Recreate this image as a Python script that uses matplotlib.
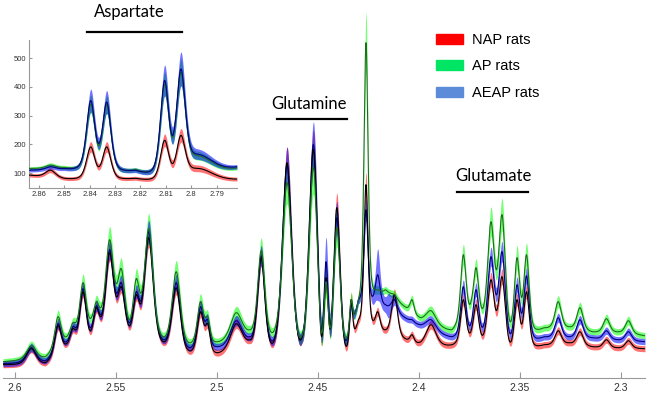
import numpy as np
import matplotlib
matplotlib.use('Agg')
import matplotlib.pyplot as plt
from matplotlib.patches import Patch

W, H = 650, 397

# ---- main spectrum: peak table (ppm, half width) and mean heights per group
PEAK_PPM = [2.5920, 2.5788, 2.5714, 2.5664, 2.5598, 2.5577, 2.5532, 2.5474, 2.5400,
            2.5375, 2.5338, 2.5202, 2.5082, 2.5046, 2.4905, 2.4781, 2.4653, 2.4522,
            2.4460, 2.4407, 2.4336, 2.4262, 2.4204, 2.4121, 2.4034, 2.3940, 2.3780,
            2.3717, 2.3643, 2.3588, 2.3514, 2.3467, 2.3310, 2.3202, 2.3071, 2.2962]
PEAK_HW = [0.0028, 0.0019, 0.0017, 0.0019, 0.0017, 0.0013, 0.0024, 0.0022, 0.0019,
           0.0012, 0.0026, 0.0025, 0.0019, 0.0014, 0.0035, 0.0021, 0.0028, 0.0027,
           0.0014, 0.0021, 0.0009, 0.0012, 0.0014, 0.0018, 0.0012, 0.0030, 0.0016,
           0.0016, 0.0020, 0.0020, 0.0016, 0.0016, 0.0019, 0.0019, 0.0019, 0.0019]
NAP_PK = [29, 52, 49, 86, 70, 61, 125, 91, 83, 75, 140, 90, 66, 54, 54, 120, 215, 228,
          100, 170, 78, 193, 66, 83, 43, 53, 78, 73, 98, 101, 78, 86, 47, 46, 38, 37]
AP_PK = [32, 61, 55, 95, 76, 70, 138, 109, 99, 85, 149, 106, 76, 61, 65, 127, 195, 210,
         96, 150, 78, 335, 88, 83, 78, 67, 123, 110, 156, 163, 120, 123, 76, 70, 59, 57]
AEAP_PK = [30, 54, 51, 89, 72, 63, 128, 95, 86, 78, 146, 95, 71, 58, 57, 122, 213, 233,
           116, 160, 73, 168, 103, 78, 58, 58, 91, 88, 121, 126, 93, 102, 60, 58, 47, 46]

# valley levels between peaks
VAL_PPM = [2.606, 2.585, 2.5747, 2.5623, 2.5433, 2.526, 2.5163, 2.4996, 2.484, 2.4715,
           2.458, 2.4485, 2.4375, 2.430, 2.4165, 2.399, 2.3836, 2.374, 2.3557, 2.338,
           2.3255, 2.314, 2.301, 2.288]
NAP_VAL = [13, 15, 34, 48, 52, 36, 37, 25, 38, 38, 40, 44, 48, 58, 48, 36, 33, 48, 41,
           33, 35, 31, 30, 29]
AP_VAL = [16, 21, 41, 60, 58, 41, 46, 36, 48, 48, 42, 47, 50, 78, 88, 60, 48, 78, 65,
          50, 51, 46, 46, 42]
AEAP_VAL = [14, 17, 36, 51, 55, 38, 40, 31, 41, 40, 41, 50, 49, 78, 73, 53, 41, 56, 51,
            41, 41, 40, 38, 36]

# extra spread spots (ppm, extra sd)
AEAP_SPREAD_PPM = [2.4460, 2.4204, 2.4150]
AEAP_SPREAD = [10, 20, 8]

# ---- inset: aspartate region
INS_PPM = [2.8554, 2.8396, 2.8333, 2.8105, 2.8041, 2.7970]
INS_HW = [0.0024, 0.0020, 0.0020, 0.0020, 0.0021, 0.0070]
NAP_INS = [110, 191, 191, 214, 231, 116]
AP_INS = [128, 340, 338, 410, 450, 160]
AEAP_INS = [122, 352, 347, 422, 462, 165]
INS_VAL_PPM = [2.864, 2.850, 2.8365, 2.822, 2.8073, 2.782]
NAP_INS_VAL = [93, 82, 122, 82, 133, 79]
AP_INS_VAL = [116, 120, 195, 112, 225, 118]
AEAP_INS_VAL = [110, 116, 203, 110, 231, 122]

MAIN_TICKS = [2.6, 2.55, 2.5, 2.45, 2.4, 2.35, 2.3]
INS_XTICKS = [2.86, 2.85, 2.84, 2.83, 2.82, 2.81, 2.8, 2.79]
INS_YTICKS = [100, 200, 300, 400, 500]

GROUPS = ['NAP rats', 'AP rats', 'AEAP rats']
BAND = {'NAP rats': '#ff0000', 'AP rats': '#00ff00', 'AEAP rats': '#0000ff'}
LINE = {'NAP rats': '#000000', 'AP rats': '#1f6e1f', 'AEAP rats': '#000080'}
LEG = {'NAP rats': '#ff0000', 'AP rats': '#00e664', 'AEAP rats': '#5b8bd9'}

plt.rcParams['font.family'] = ['Liberation Sans', 'DejaVu Sans']


def lor(x, p, w):
    return 1.0 / (1.0 + ((x - p) / w) ** 2)


def line_shape(x, p, w):
    # pseudo-Voigt: half Lorentzian, half Gaussian
    return 0.5 * lor(x, p, w) + 0.5 * np.exp(-np.log(2) * ((x - p) / w) ** 2)


def build(x, pk_ppm, pk_hw, pk_h, val_ppm, val_h):
    """Peaks on a piecewise linear baseline, solved so that the curve
    passes through the read peak and valley levels."""
    pk_ppm = np.asarray(pk_ppm); pk_hw = np.asarray(pk_hw)
    order = np.argsort(val_ppm)
    vx = np.asarray(val_ppm)[order]
    vh = np.asarray(val_h, float)[order]

    def basis(xx):
        cols = [line_shape(xx, p, w) for p, w in zip(pk_ppm, pk_hw)]
        for k in range(len(vx)):
            e = np.zeros(len(vx)); e[k] = 1
            cols.append(np.interp(xx, vx, e))
        return np.column_stack(cols)

    pts = np.concatenate([pk_ppm, vx])
    obs = np.concatenate([np.asarray(pk_h, float), vh])
    coef = np.linalg.lstsq(basis(pts), obs, rcond=None)[0]
    B = basis(x)
    n = len(pk_ppm)
    return B @ coef, B[:, n:] @ coef[n:]


fig = plt.figure(figsize=(W / 100, H / 100), dpi=100)

# main axes
ax = fig.add_axes([3 / W, 1 - 377.7 / H, 642 / W, 377.7 / H])
x = np.linspace(2.606, 2.288, 4000)
main = {
    'NAP rats': (NAP_PK, NAP_VAL, 3, 0.06, [], []),
    'AP rats': (AP_PK, AP_VAL, 3, 0.10, [], []),
    'AEAP rats': (AEAP_PK, AEAP_VAL, 3, 0.07, AEAP_SPREAD_PPM, AEAP_SPREAD),
}
curves = {}
for g in GROUPS:
    pk, val, sd0, rel, sx, sv = main[g]
    y, base = build(x, PEAK_PPM, PEAK_HW, pk, VAL_PPM, val)
    sd = sd0 + rel * np.clip(y - base, 0, None)
    for p, v in zip(sx, sv):
        sd = sd + v * lor(x, p, 0.0012)
    curves[g] = y
    ax.fill_between(x, y - sd, y + sd, color=BAND[g], alpha=0.55, lw=0, zorder=2)
for g in ['AEAP rats', 'NAP rats', 'AP rats']:
    ax.plot(x, curves[g], color=LINE[g], lw=0.8, zorder=3)

ax.set_xlim(2.606, 2.288)
ax.set_ylim(0, 377.7)
for sp in ['top', 'right', 'left']:
    ax.spines[sp].set_visible(False)
ax.spines['bottom'].set_color('#999999')
ax.set_yticks([])
ax.set_xticks(MAIN_TICKS)
ax.set_xticklabels([f'{t:g}' for t in MAIN_TICKS])
ax.tick_params(axis='x', direction='in', length=4, color='#999999',
               labelsize=7.5, labelcolor='#333333', pad=4)
ax.patch.set_alpha(0)

# inset axes
ia = fig.add_axes([29 / W, 1 - 188 / H, 208 / W, 148 / H])
xi = np.linspace(2.8639, 2.782, 1500)
inset = {
    'NAP rats': (NAP_INS, NAP_INS_VAL, 6, 0.10),
    'AP rats': (AP_INS, AP_INS_VAL, 6, 0.10),
    'AEAP rats': (AEAP_INS, AEAP_INS_VAL, 6, 0.13),
}
icurves = {}
for g in GROUPS:
    pk, val, sd0, rel = inset[g]
    y, base = build(xi, INS_PPM, INS_HW, pk, INS_VAL_PPM, val)
    sd = sd0 + rel * np.clip(y - base, 0, None)
    icurves[g] = y
    ia.fill_between(xi, y - sd, y + sd, color=BAND[g], alpha=0.55, lw=0, zorder=2)
for g in ['AP rats', 'NAP rats', 'AEAP rats']:
    ia.plot(xi, icurves[g], color=LINE[g], lw=0.8, zorder=3)
ia.set_xlim(2.8639, 2.782)
ia.set_ylim(48, 563)
ia.set_xticks(INS_XTICKS)
ia.set_xticklabels([f'{t:g}' for t in INS_XTICKS])
ia.set_yticks(INS_YTICKS)
for sp in ['top', 'right']:
    ia.spines[sp].set_visible(False)
for sp in ['left', 'bottom']:
    ia.spines[sp].set_color('#999999')
ia.tick_params(direction='in', length=2.5, color='#999999', labelsize=5.5,
               labelcolor='#333333', pad=2)
ia.patch.set_alpha(0)

# region labels with bars
LABELS = [('Aspartate', 129, 12, 87, 182, 32),
          ('Glutamine', 308.5, 104, 276.7, 347.3, 119),
          ('Glutamate', 493.5, 176, 456.7, 527.7, 191.7)]
for txt, cx, cy, x0, x1, yb in LABELS:
    fig.text(cx / W, 1 - cy / H, txt, ha='center', va='center',
             fontsize=12, family='Lato', color='black')
    fig.add_artist(plt.Line2D([x0 / W, x1 / W], [1 - yb / H, 1 - yb / H],
                              color='black', lw=1.6))

handles = [Patch(facecolor=LEG[g], edgecolor=LEG[g], label=g) for g in GROUPS]
fig.legend(handles=handles, loc='upper left',
           bbox_to_anchor=(436 / W, 1 - 33 / H), frameon=False,
           prop={'family': 'Liberation Sans', 'size': 10.5},
           handlelength=1.85, handleheight=0.7, handletextpad=0.6,
           labelspacing=0.85, borderpad=0, borderaxespad=0)

fig.savefig('out.png', dpi=100)
